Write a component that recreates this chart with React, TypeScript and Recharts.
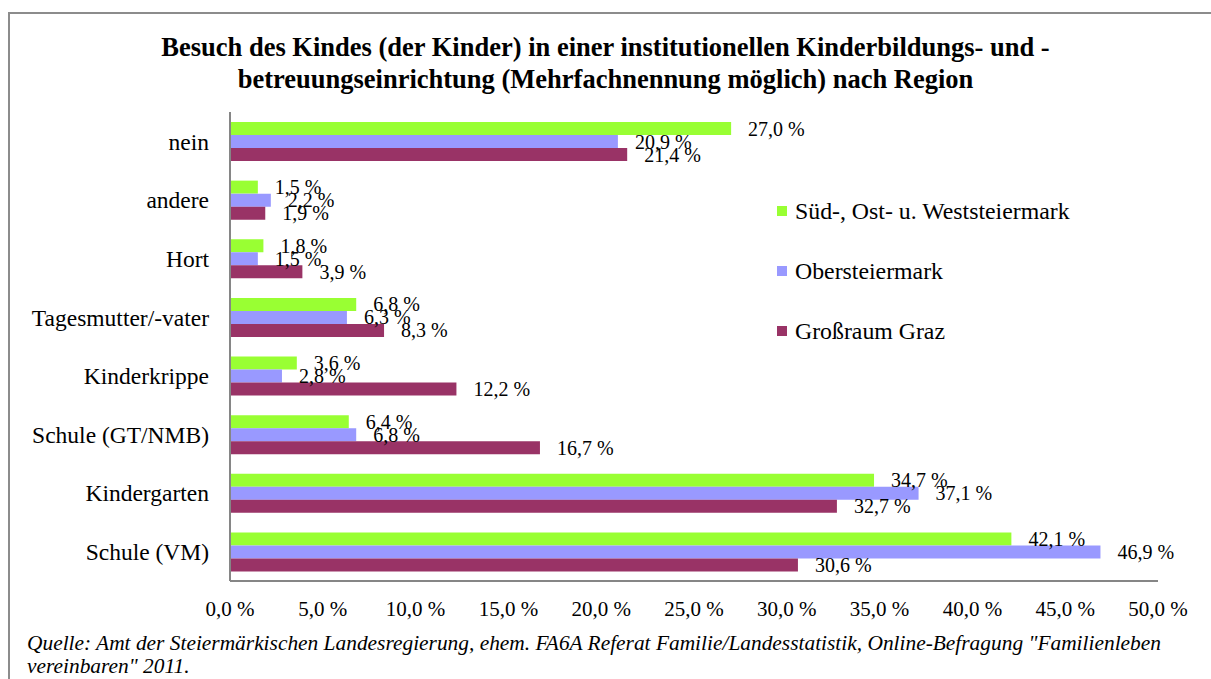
import { BarChart, Bar, XAxis, YAxis, Legend, LabelList } from 'recharts';

const categories = [
  'nein',
  'andere',
  'Hort',
  'Tagesmutter/-vater',
  'Kinderkrippe',
  'Schule (GT/NMB)',
  'Kindergarten',
  'Schule (VM)',
];

const sued = [27.0, 1.5, 1.8, 6.8, 3.6, 6.4, 34.7, 42.1];
const ober = [20.9, 2.2, 1.5, 6.3, 2.8, 6.8, 37.1, 46.9];
const graz = [21.4, 1.9, 3.9, 8.3, 12.2, 16.7, 32.7, 30.6];

const xTicks = [0, 5, 10, 15, 20, 25, 30, 35, 40, 45, 50];

const series = [
  { key: 'sued', name: 'Süd-, Ost- u. Weststeiermark', color: '#99FF33' },
  { key: 'ober', name: 'Obersteiermark', color: '#9999FF' },
  { key: 'graz', name: 'Großraum Graz', color: '#993366' },
];

const data = categories.map((name, i) => ({
  name,
  sued: sued[i],
  ober: ober[i],
  graz: graz[i],
}));

const FONT = '"Liberation Serif", "Times New Roman", serif';
const AXIS = '#868686';

const pct = (v: number) => `${v.toFixed(1).replace('.', ',')} %`;

// legend drawn in series order (recharts reverses it for vertical layouts)
const LegendBox = () => (
  <div style={{ fontFamily: FONT, fontSize: 23.8, color: '#000' }}>
    {series.map((s) => (
      <div key={s.key} style={{ display: 'flex', alignItems: 'center', height: 60, whiteSpace: 'nowrap' }}>
        <span style={{ width: 10, height: 10, background: s.color, marginRight: 8, display: 'inline-block' }} />
        <span>{s.name}</span>
      </div>
    ))}
  </div>
);

export default function App() {
  return (
    <div style={{ position: 'absolute', left: 0, top: 0, width: 1211, height: 679, background: '#fff', overflow: 'hidden', fontFamily: FONT }}>
      <div style={{ position: 'absolute', left: 8, top: 12, width: 1210, height: 700, borderLeft: '2px solid #8c8c8c', borderTop: '2px solid #8c8c8c' }} />
      <div style={{ position: 'absolute', left: 0, top: 31, width: 1211, textAlign: 'center', fontWeight: 'bold', fontSize: 26.5, lineHeight: '32px', color: '#000', whiteSpace: 'nowrap' }}>
        Besuch des Kindes (der Kinder) in einer institutionellen Kinderbildungs- und -<br />
        betreuungseinrichtung (Mehrfachnennung möglich) nach Region
      </div>
      <div style={{ position: 'absolute', left: 0, top: 0 }}>
        <BarChart
          width={1211}
          height={679}
          data={data}
          layout="vertical"
          margin={{ top: 112, right: 53, bottom: 68, left: 0 }}
          barCategoryGap="17%"
          barGap={0}
        >
          <XAxis
            type="number"
            domain={[0, 50]}
            ticks={xTicks}
            tickFormatter={pct}
            axisLine={{ stroke: AXIS, strokeWidth: 2 }}
            tickLine={false}
            tickMargin={14}
            height={30}
            tick={{ fontSize: 21, fill: '#000', fontFamily: FONT }}
            interval={0}
          />
          <YAxis
            type="category"
            dataKey="name"
            width={230}
            axisLine={{ stroke: AXIS, strokeWidth: 2 }}
            tickLine={false}
            tickMargin={15}
            tick={{ fontSize: 23.5, fill: '#000', fontFamily: FONT }}
            interval={0}
          />
          <Legend
            layout="vertical"
            verticalAlign="middle"
            align="center"
            content={<LegendBox />}
            wrapperStyle={{ left: 777, top: 181, width: 420 }}
          />
          {series.map((s) => (
            <Bar key={s.key} dataKey={s.key} name={s.name} fill={s.color} barSize={13} isAnimationActive={false}>
              <LabelList
                dataKey={s.key}
                position="right"
                offset={17}
                formatter={(v: any) => pct(Number(v))}
                style={{ fontSize: 20, fill: '#000', fontFamily: FONT }}
              />
            </Bar>
          ))}
        </BarChart>
      </div>
      <div style={{ position: 'absolute', left: 27, top: 632, width: 1180, fontStyle: 'italic', fontSize: 21.4, lineHeight: '23px', color: '#000', whiteSpace: 'nowrap' }}>
        Quelle: Amt der Steiermärkischen Landesregierung, ehem. FA6A Referat Familie/Landesstatistik, Online-Befragung "Familienleben<br />
        vereinbaren" 2011.
      </div>
    </div>
  );
}
